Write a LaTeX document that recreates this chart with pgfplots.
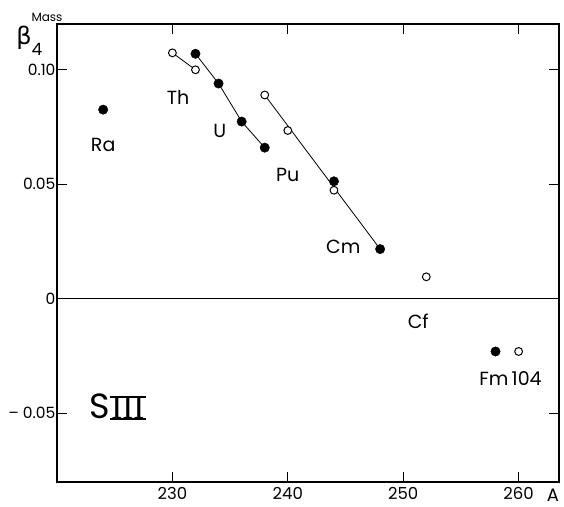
\documentclass[border=0pt]{standalone}
\usepackage{fontspec}
\setmainfont{Poppins}
\newfontfamily\dejavu{DejaVu Sans}
\newfontfamily\serif{Liberation Serif}
\usepackage{pgfplots}
\pgfplotsset{compat=1.18}
\begin{document}
\begin{tikzpicture}
\begin{axis}[
  scale only axis, width=502pt, height=458pt,
  at={(0pt,0pt)}, anchor=south west,
  xmin=220, xmax=263.5, ymin=-0.08, ymax=0.12,
  xtick={230,240,250,260}, xticklabels={230,240,250,260},
  ytick={-0.05,0.05,0.10}, yticklabels={{-- 0.05},0.05,0.10},
  extra y ticks={0}, extra y tick labels={0},
  extra y tick style={major tick length=0pt},
  tick align=inside, major tick length=10pt,
  axis line style={line width=1.1pt},
  every tick/.style={black, line width=1.1pt},
  xticklabel style={font=\fontsize{16.5}{16.5}\selectfont, yshift=-2pt},
  yticklabel style={font=\fontsize{15.5}{15.5}\selectfont, xshift=2pt},
  /pgf/number format/assume math mode=true,
  clip=false,
]
\addplot[black, line width=1.1pt] coordinates {(220,0) (263.5,0)};
\addplot[black, line width=0.8pt] coordinates {(230,0.1074) (232,0.100)};
\addplot[black, line width=0.8pt] coordinates {(232,0.107) (234,0.094) (236,0.0774) (238,0.066)};
\addplot[black, line width=0.8pt] coordinates {(238,0.089) (248,0.0217)};
\addplot[only marks, mark=*, mark size=3.9pt, mark options={draw=black, fill=white, line width=1pt}] coordinates {(230,0.1074) (232,0.100) (238,0.089) (240,0.0735) (244,0.0474) (252,0.0096) (260,-0.023)};
\addplot[only marks, mark=*, mark size=4.7pt, mark options={draw=black, fill=black}] coordinates {(224,0.0826) (232,0.107) (234,0.094) (236,0.0774) (238,0.066) (244,0.0513) (248,0.0217) (258,-0.023)};
\begin{scope}[every node/.style={font=\fontsize{19}{19}\selectfont, inner sep=0pt}]
\node at (axis cs:230.5,0.0878) {Th};
\node at (axis cs:234.1,0.0735) {U};
\node at (axis cs:224.0,0.0670) {Ra};
\node at (axis cs:240.0,0.0540) {Pu};
\node at (axis cs:244.8,0.0226) {Cm};
\node at (axis cs:251.3,-0.0100) {Cf};
\node at (axis cs:259.3,-0.0348) {Fm\,104};
\end{scope}
\node[font=\fontsize{35}{35}\selectfont, inner sep=0pt, anchor=base west] at (axis cs:222.8,-0.0523) {S};
\node[font=\fontsize{33}{33}\selectfont\serif, inner sep=0pt, anchor=base west] (III) at (axis cs:224.7,-0.0523) {III};
\draw[line width=2pt] ([xshift=-1pt]III.north west) -- ([xshift=1pt]III.north east);
\draw[line width=2pt] ([xshift=-1pt]III.south west) -- ([xshift=1pt]III.south east);
\end{axis}
\node[font=\fontsize{24}{24}\selectfont\dejavu, inner sep=0pt] at (-33pt,444pt) {β};
\node[font=\fontsize{17}{17}\selectfont, inner sep=0pt] at (-20pt,433pt) {4};
\node[font=\fontsize{12}{12}\selectfont, inner sep=0pt] at (-10pt,464.5pt) {Mass};
\node[font=\fontsize{18}{18}\selectfont, inner sep=0pt] at (496pt,-13pt) {A};
\pgfresetboundingbox
\path (-57pt,-24pt) rectangle (507pt,482pt);
\end{tikzpicture}
\end{document}
